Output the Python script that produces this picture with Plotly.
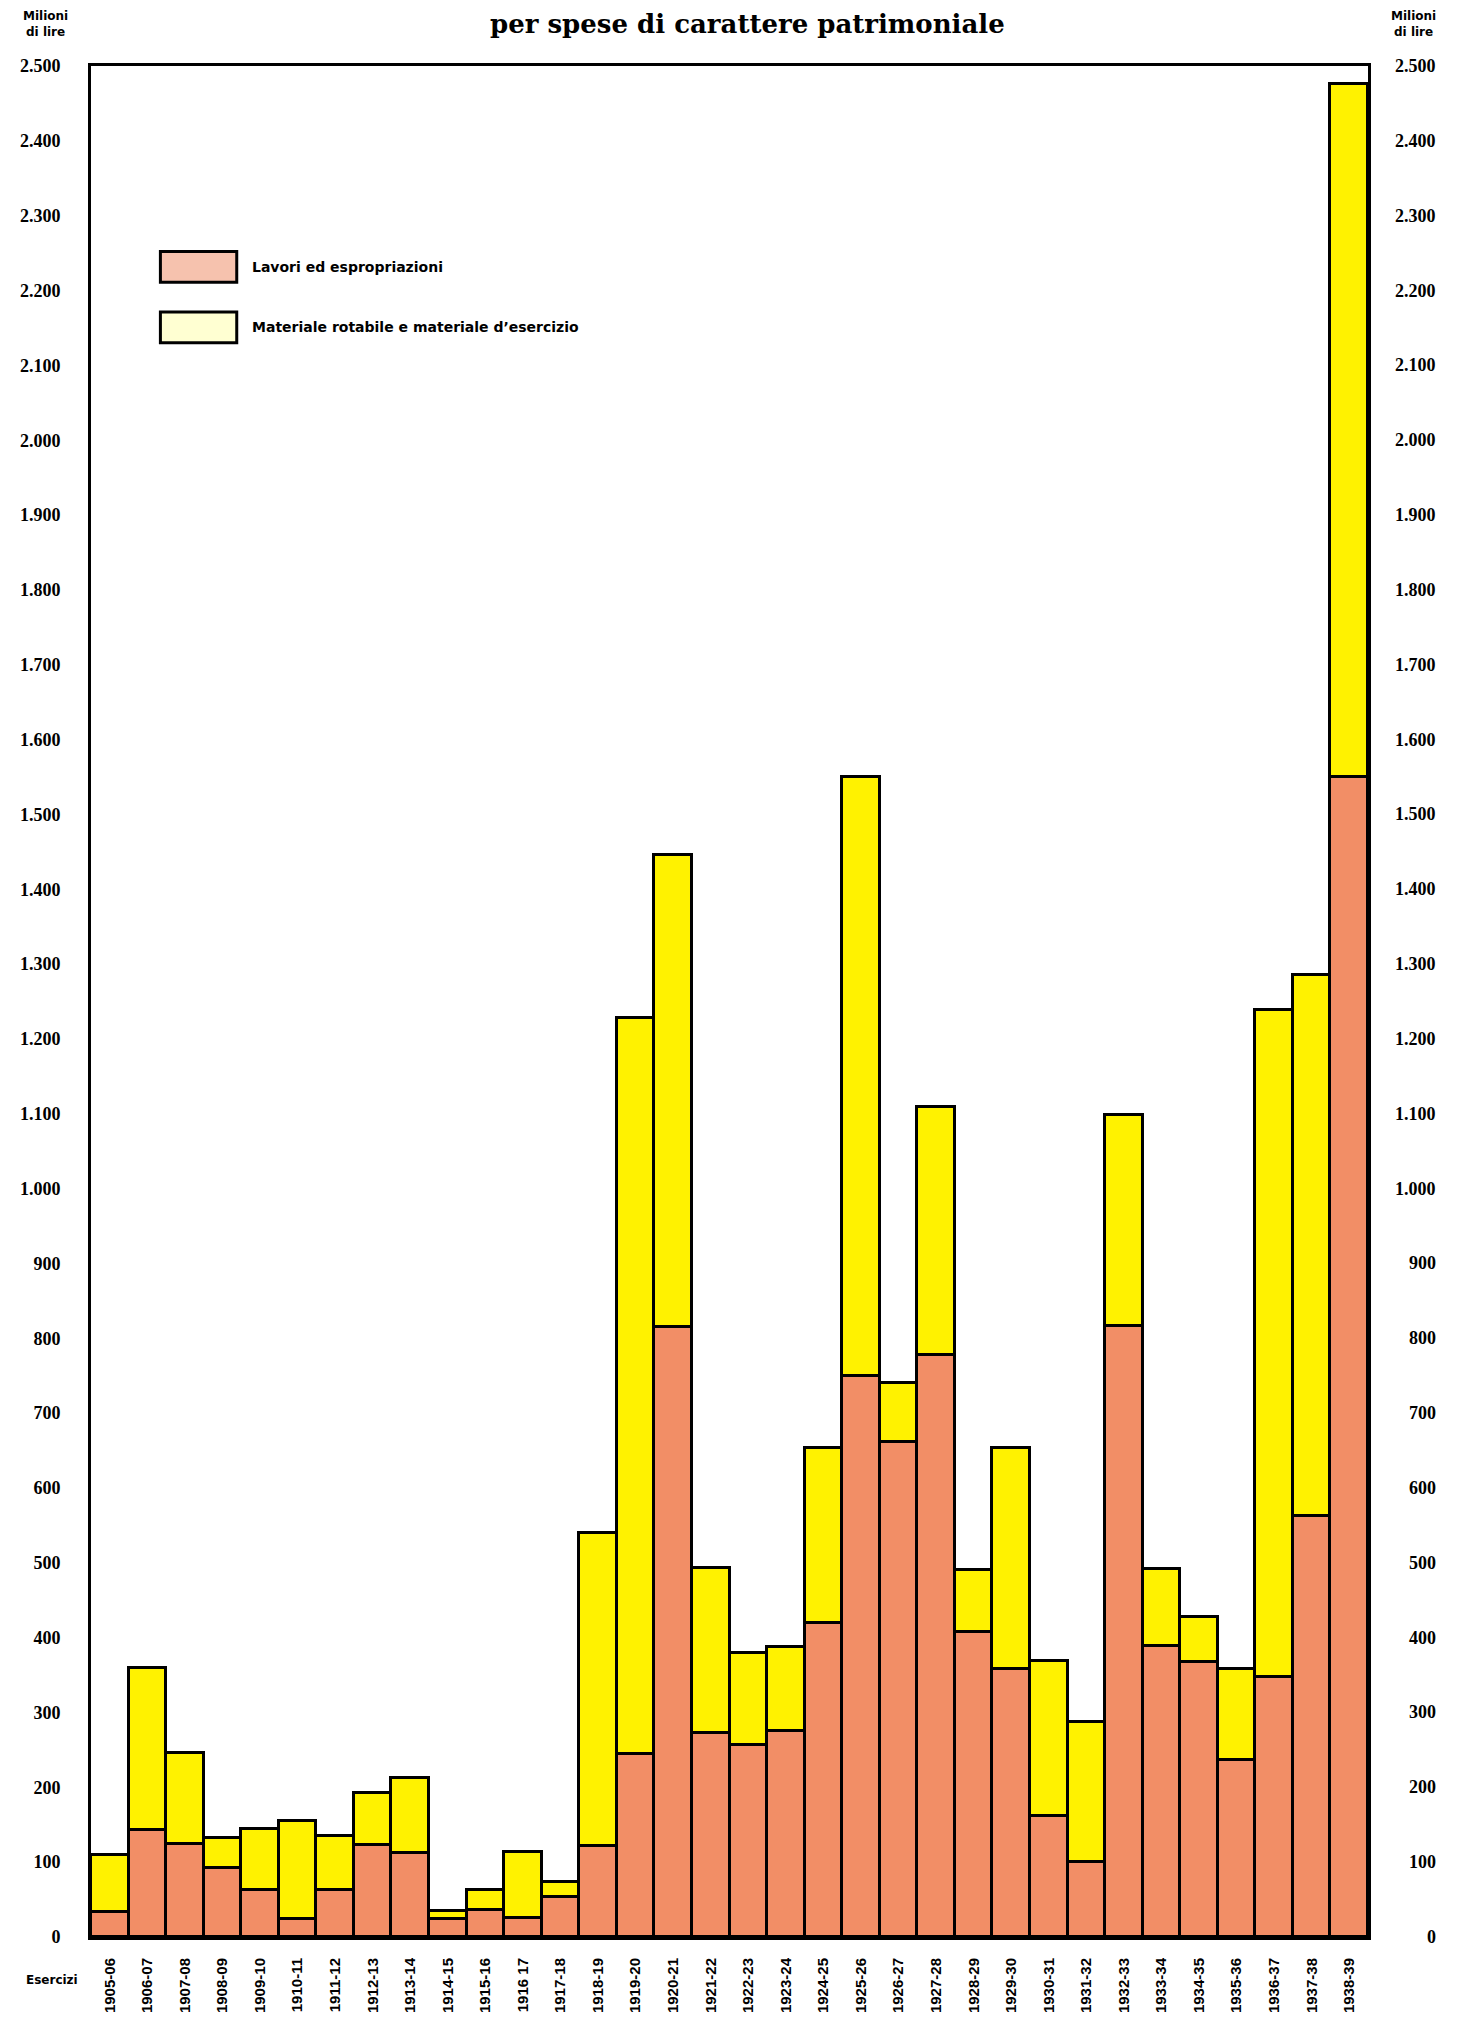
import plotly.graph_objects as go

# ---------------- data ----------------
esercizi = ["1905-06", "1906-07", "1907-08", "1908-09", "1909-10", "1910-11", "1911-12",
            "1912-13", "1913-14", "1914-15", "1915-16", "1916 17", "1917-18", "1918-19",
            "1919-20", "1920-21", "1921-22", "1922-23", "1923-24", "1924-25", "1925-26",
            "1926-27", "1927-28", "1928-29", "1929-30", "1930-31", "1931-32", "1932-33",
            "1933-34", "1934-35", "1935-36", "1936-37", "1937-38", "1938-39"]

lavori = [33, 143, 124, 92, 63, 24, 63, 123, 112, 24, 36, 25, 53, 122,
          245, 815, 273, 256, 275, 419, 750, 662, 777, 408, 358, 162, 100, 816,
          389, 368, 236, 348, 562, 1550]

materiale = [77, 217, 122, 40, 81, 131, 72, 70, 101, 11, 27, 88, 20, 418,
             983, 631, 220, 123, 113, 234, 800, 78, 332, 83, 295, 207, 187, 282,
             103, 60, 122, 890, 723, 926]

tick_values = [0, 100, 200, 300, 400, 500, 600, 700, 800, 900, 1000, 1100, 1200, 1300,
               1400, 1500, 1600, 1700, 1800, 1900, 2000, 2100, 2200, 2300, 2400, 2500]
tick_labels = ["0", "100", "200", "300", "400", "500", "600", "700", "800", "900",
               "1.000", "1.100", "1.200", "1.300", "1.400", "1.500", "1.600", "1.700",
               "1.800", "1.900", "2.000", "2.100", "2.200", "2.300", "2.400", "2.500"]

series_names = ["Lavori ed espropriazioni", "Materiale rotabile e materiale d\u2019esercizio"]

# ---------------- styling ----------------
OFF = 8                                   # default body margin of the html page
W, H = 1459 - OFF, 2025 - OFF
PL, PR, PT, PB = 80, 1368, 66, 1952       # plot area in page pixels
RED = "#F28E66"
YELLOW = "#FFF200"
SANS = "Liberation Sans"
WIDE = "DejaVu Sans"
SERIF = "Liberation Serif"


def px(xp):
    return (xp - PL) / (PR - PL)


def py(yp):
    return (PB - yp) / (PB - PT)


fig = go.Figure()
fig.add_trace(go.Bar(x=esercizi, y=lavori, name=series_names[0],
                     marker=dict(color=RED, line=dict(color="black", width=3)),
                     showlegend=False))
fig.add_trace(go.Bar(x=esercizi, y=materiale, name=series_names[1],
                     marker=dict(color=YELLOW, line=dict(color="black", width=3)),
                     showlegend=False))

annotations = []
# right-hand tick labels
for v, t in zip(tick_values, tick_labels):
    annotations.append(dict(x=px(1439), xref="paper", y=v, yref="y", text=t,
                            showarrow=False, xanchor="right", yanchor="middle",
                            font=dict(family=SERIF, size=18, color="black", weight="bold")))

# title (top of the figure area)
annotations.append(dict(x=px(742), xref="paper", y=py(OFF), yref="paper",
                        text="per spese di carattere patrimoniale", showarrow=False,
                        xanchor="center", yanchor="top", borderpad=0,
                        font=dict(family="DejaVu Serif", size=26, color="black", weight="bold")))
# unit labels
for xc in (34, 1414):
    annotations.append(dict(x=px(xc), xref="paper", y=py(OFF), yref="paper",
                            text="Milioni<br>di lire", showarrow=False,
                            xanchor="center", yanchor="top", align="center", borderpad=0,
                            font=dict(family=WIDE, size=12, color="black", weight="bold")))
# x axis title
annotations.append(dict(x=px(41), xref="paper", y=py(1995), yref="paper",
                        text="Esercizi", showarrow=False, xanchor="center", yanchor="middle",
                        font=dict(family=WIDE, size=12, color="black", weight="bold")))

# custom legend
shapes = []
legend_rows = [(253, 284, "#F6C2AE", series_names[0]),
               (314, 345, "#FFFFD2", series_names[1])]
for y0, y1, col, name in legend_rows:
    shapes.append(dict(type="rect", xref="paper", yref="paper",
                       x0=px(150), x1=px(227), y0=py(y1), y1=py(y0),
                       fillcolor=col, line=dict(color="black", width=3)))
    annotations.append(dict(x=px(240), xref="paper", y=py((y0 + y1) / 2), yref="paper",
                            text=name, showarrow=False, xanchor="left", yanchor="middle",
                            font=dict(family=WIDE, size=14, color="black", weight="bold")))

fig.update_layout(
    width=W, height=H,
    margin=dict(l=PL - OFF, r=W - (PR - OFF), t=PT - OFF, b=H - (PB - OFF), pad=0),
    paper_bgcolor="white", plot_bgcolor="white",
    barmode="stack", bargap=0,
    annotations=annotations, shapes=shapes,
    showlegend=False,
    xaxis=dict(type="category", range=[-0.5, len(esercizi) - 0.5],
               tickangle=-90, ticks="", showgrid=False,
               showline=True, mirror=True, linecolor="black", linewidth=3,
               ticklabelstandoff=12,
               tickfont=dict(family=SANS, size=15, color="black", weight="bold")),
    yaxis=dict(range=[0, 2500], tickmode="array", tickvals=tick_values, ticktext=tick_labels,
               ticks="", showgrid=False, zeroline=False,
               showline=True, mirror=True, linecolor="black", linewidth=3,
               ticklabelstandoff=24,
               tickfont=dict(family=SERIF, size=18, color="black", weight="bold")),
)

fig.write_html("out.html")
